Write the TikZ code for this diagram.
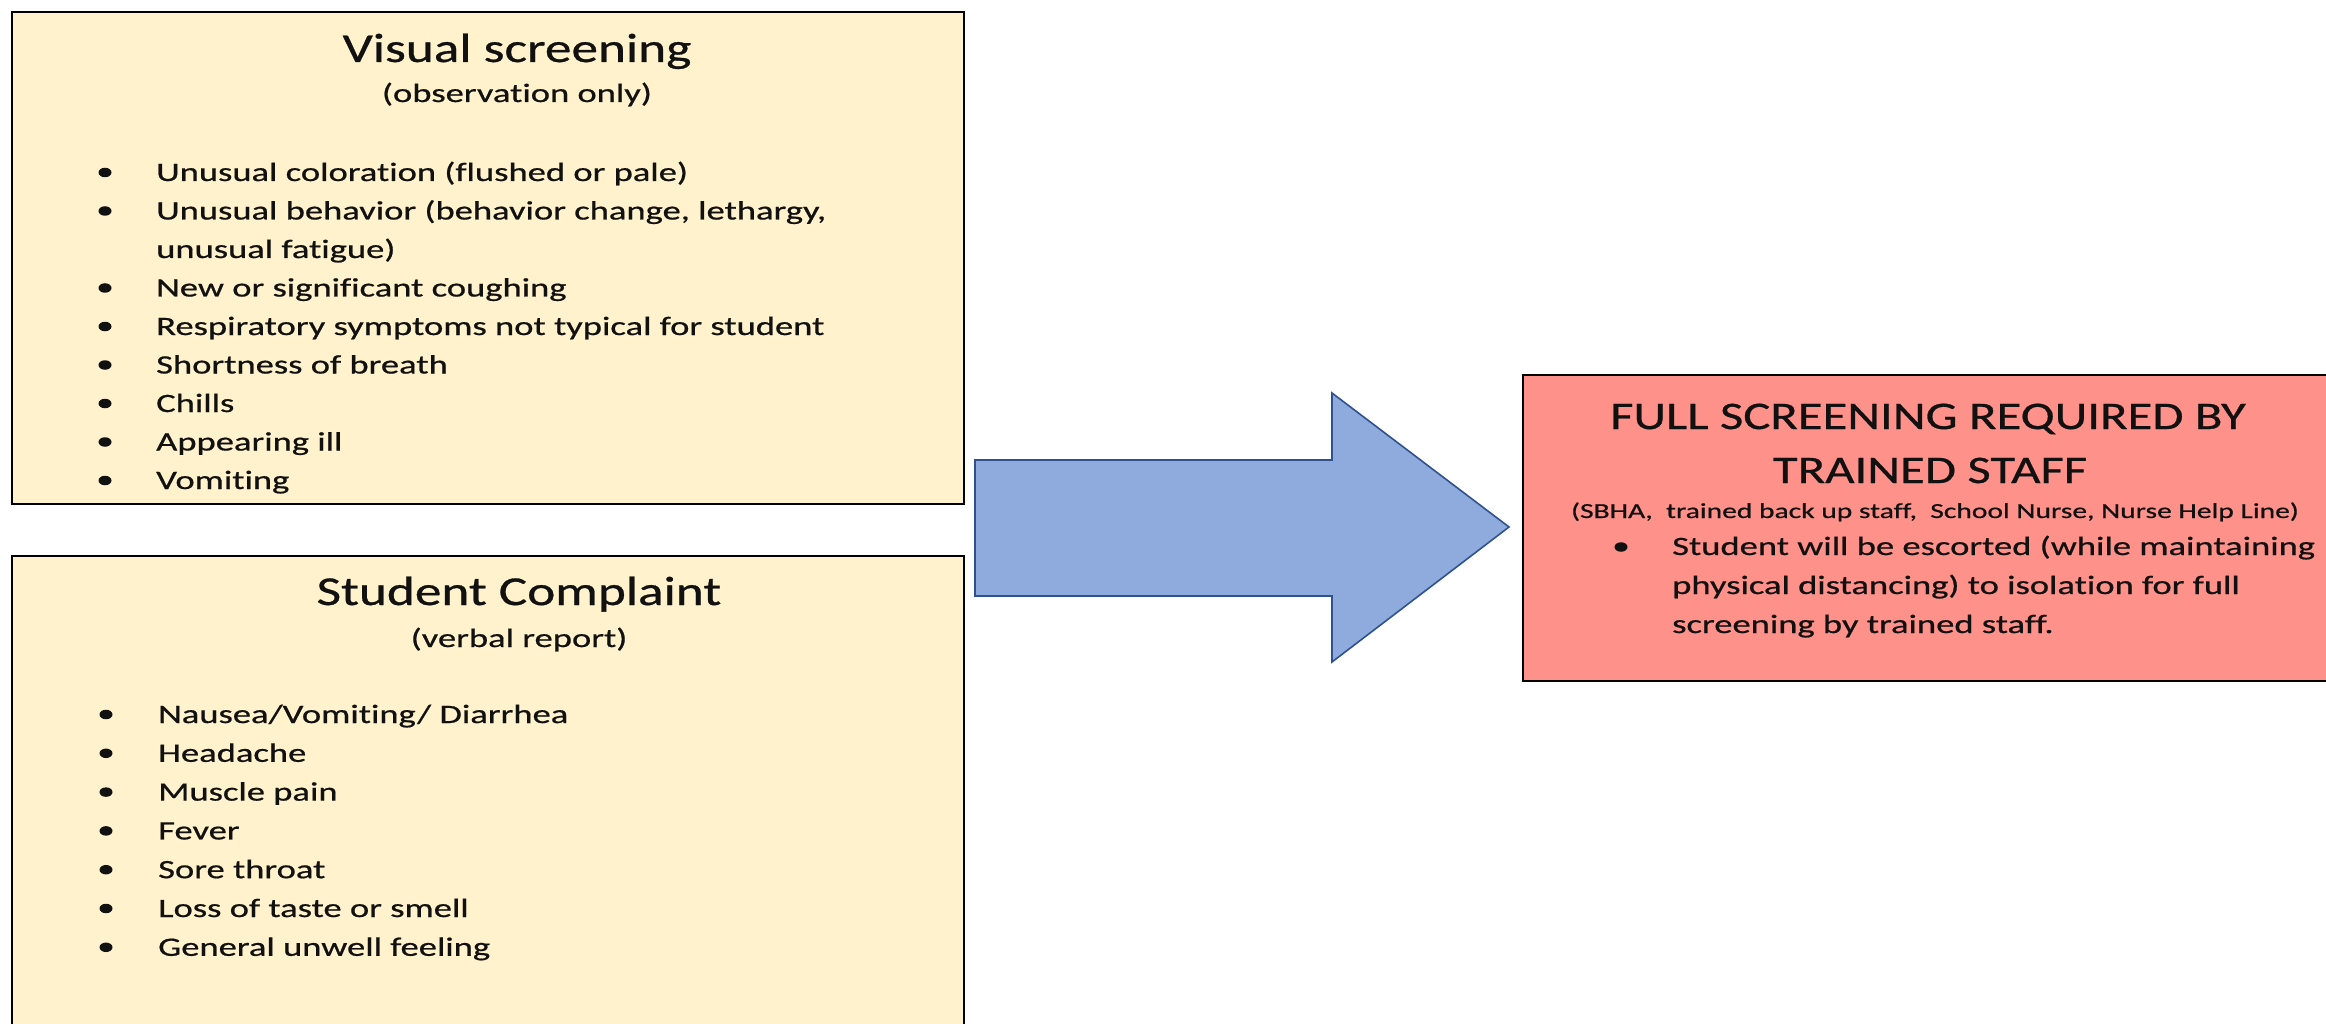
\documentclass[tikz,border=0pt]{standalone}
\usepackage{fontspec}
\setmainfont{Carlito}[FakeStretch=1.38, FakeBold=0.7, Ligatures=NoCommon]
\newfontfamily\headfont{Carlito}[FakeStretch=1.3, FakeBold=0.7, Ligatures=NoCommon]
\usetikzlibrary{shapes.geometric}
\definecolor{boxyellow}{HTML}{FFF2CC}
\definecolor{boxred}{HTML}{FF918B}
\definecolor{arrowfill}{HTML}{8FAADC}
\definecolor{arrowline}{HTML}{2F528F}
\definecolor{textdark}{HTML}{111111}
\begin{document}
\begin{tikzpicture}[x=1pt,y=-1pt,
  panel/.style={draw=black, line width=1.6pt, inner sep=0, outer sep=0, anchor=north west},
  titletext/.style={anchor=base, inner sep=0, text=textdark, font=\headfont\fontsize{41}{41}\selectfont},
  redtitle/.style={anchor=base, inner sep=0, text=textdark, font=\headfont\fontsize{39}{39}\selectfont},
  subtext/.style={anchor=base, inner sep=0, text=textdark, font=\fontsize{26.5}{26.5}\selectfont},
  smalltext/.style={anchor=base, inner sep=0, text=textdark, font=\fontsize{21.4}{21.4}\selectfont},
  itemtext/.style={anchor=base west, inner sep=0, text=textdark, font=\fontsize{26.5}{26.5}\selectfont},
  bulletdot/.style={ellipse, fill=textdark, inner sep=0, minimum width=13pt, minimum height=9.5pt},
  blockarrow/.style={fill=arrowfill, draw=arrowline, line width=1.6pt, line join=miter}
]
\useasboundingbox (0,0) rectangle (2326,1024);
\fill[white] (0,0) rectangle (2326,1024);

% panels
\node[panel, fill=boxyellow, minimum width=952pt, minimum height=492pt] (visual) at (12,12) {};
\node[panel, fill=boxyellow, minimum width=952pt, minimum height=500pt] (complaint) at (12,556) {};
\node[panel, fill=boxred, minimum width=830pt, minimum height=306pt] (full) at (1523,375) {};

% block arrow
\draw[blockarrow] (975,460) -- (1332,460) -- (1332,393) -- (1509,527) -- (1332,662) -- (1332,596) -- (975,596) -- cycle;

% Visual screening
\node[titletext] (vtitle) at (517,62) {Visual screening};
\node[subtext] (vsub) at (517,102) {(observation only)};
\node[itemtext] (v1) at (156,181) {Unusual coloration (flushed or pale)};
\node[itemtext] (v2) at (156,219.5) {Unusual behavior (behavior change, lethargy,};
\node[itemtext] (v2b) at (156,258) {unusual fatigue)};
\node[itemtext] (v3) at (156,296.5) {New or significant coughing};
\node[itemtext] (v4) at (156,335) {Respiratory symptoms not typical for student};
\node[itemtext] (v5) at (156,373.5) {Shortness of breath};
\node[itemtext] (v6) at (156,412) {Chills};
\node[itemtext] (v7) at (156,450.5) {Appearing ill};
\node[itemtext] (v8) at (156,489) {Vomiting};
\foreach \y [count=\i] in {181,219.5,296.5,335,373.5,412,450.5,489}
  \node[bulletdot] (vb\i) at (105,\y-8.5) {};

% Student complaint
\node[titletext] (ctitle) at (519,605) {Student Complaint};
\node[subtext] (csub) at (519,647) {(verbal report)};
\node[itemtext] (c1) at (158,723) {Nausea/Vomiting/ Diarrhea};
\node[itemtext] (c2) at (158,761.8) {Headache};
\node[itemtext] (c3) at (158,800.6) {Muscle pain};
\node[itemtext] (c4) at (158,839.4) {Fever};
\node[itemtext] (c5) at (158,878.2) {Sore throat};
\node[itemtext] (c6) at (158,917) {Loss of taste or smell};
\node[itemtext] (c7) at (158,955.8) {General unwell feeling};
\foreach \y [count=\i] in {723,761.8,800.6,839.4,878.2,917,955.8}
  \node[bulletdot] (cb\i) at (106,\y-8.5) {};

% Full screening
\node[redtitle] (ftitle1) at (1928,429) {FULL SCREENING REQUIRED BY};
\node[redtitle] (ftitle2) at (1930,483) {TRAINED STAFF};
\node[smalltext] (fsub) at (1935,518) {(SBHA,\ \ trained back up staff,\ \ School Nurse, Nurse Help Line)};
\node[bulletdot] (fb1) at (1621,547) {};
\node[itemtext] (f1) at (1672,555) {Student will be escorted (while maintaining};
\node[itemtext] (f1b) at (1672,594) {physical distancing) to isolation for full};
\node[itemtext] (f1c) at (1672,633) {screening by trained staff.};
\end{tikzpicture}
\end{document}
